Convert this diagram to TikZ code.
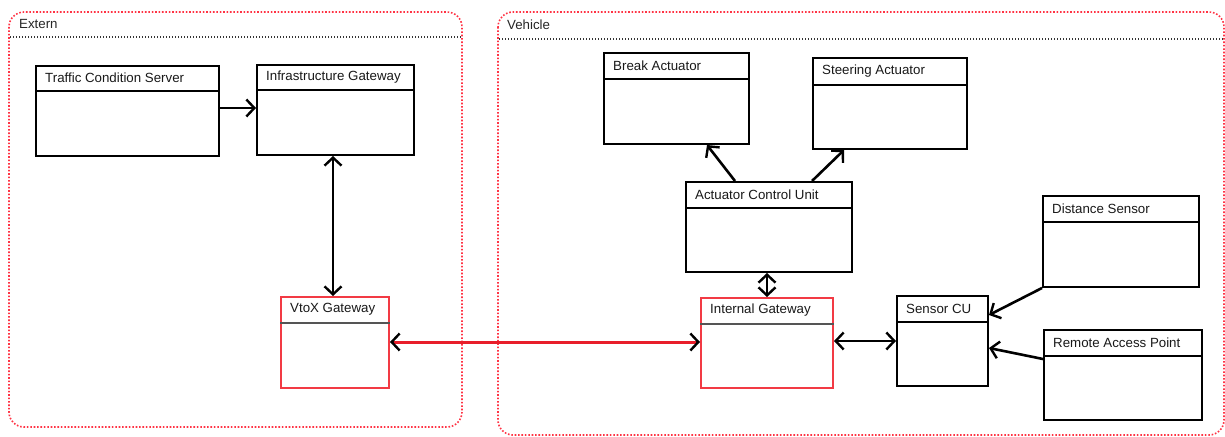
\documentclass[tikz,border=0pt]{standalone}
\usepackage{fontspec}
\setmainfont{Liberation Sans}
\usetikzlibrary{arrows.meta,calc}
\definecolor{zonered}{HTML}{FF3344}
\definecolor{gwred}{HTML}{F23A44}
\definecolor{linkred}{HTML}{E81E2A}
\definecolor{divgray}{HTML}{555555}
\tikzset{
  zone/.style={draw=zonered, line width=1.6pt, dash pattern=on 1.6pt off 1.8pt, rounded corners=15pt},
  zonehdr/.style={draw=black!80, line width=1.4pt, dash pattern=on 1.4pt off 1.6pt},
  zonelabel/.style={anchor=west, inner sep=0pt, font=\fontsize{13.3}{15}\selectfont, text=black!85},
  umlbox/.style={rectangle, line width=2pt, inner sep=0pt, anchor=north west, fill=white},
  title/.style={anchor=west, inner sep=0pt, font=\fontsize{13.3}{15}\selectfont, text=black!90},
  tip/.style={Straight Barb[length=8pt,width=17pt,line width=2.4pt]},
  link/.style={line width=2.6pt, black, arrows={-Straight Barb[length=8pt,width=17pt,line width=2.4pt]}},
  dlink/.style={line width=2.6pt, black, arrows={Straight Barb[length=8pt,width=17pt,line width=2.4pt]-Straight Barb[length=8pt,width=17pt,line width=2.4pt]}},
  redlink/.style={line width=3pt, linkred, arrows={Straight Barb[length=8pt,width=17pt,line width=2.4pt,color=black]-Straight Barb[length=8pt,width=17pt,line width=2.4pt,color=black]}}
}
% \umlcomp{name}{x}{y}{width}{height}{header height}{title}{border colour}{divider colour}
\newcommand\umlcomp[9]{%
  \node[umlbox, draw=#8, minimum width=#4pt, minimum height=#5pt] (#1) at (#2,#3) {};
  \draw[line width=2pt, #9] ($(#1.north west)+(0,#6)$) -- ($(#1.north east)+(0,#6)$);
  \node[title] (#1-t) at ($(#1.north west)+(10,#6/2)$) {#7};
}
\begin{document}
\begin{tikzpicture}[x=1pt,y=-1pt]
\useasboundingbox (0,0) rectangle (1225,436);

% zones
\draw[zone] (9,12) rectangle (462,427);
\draw[zonehdr] (10,37) -- (461,37);
\node[zonelabel] (extern) at (19,24) {Extern};

\draw[zone] (498,12) rectangle (1224,435);
\draw[zonehdr] (499,39) -- (1223,39);
\node[zonelabel] (vehicle) at (507,25) {Vehicle};

% external components
\umlcomp{tcs}{35}{65}{183}{90}{26}{Traffic Condition Server}{black}{black}
\umlcomp{ig}{256}{64}{157}{90}{26}{Infrastructure Gateway}{black}{black}
\umlcomp{vtox}{280}{296}{108}{91}{27}{VtoX Gateway}{gwred}{divgray}

% vehicle components
\umlcomp{ba}{603}{52}{145}{91}{27}{Break Actuator}{black}{black}
\umlcomp{sa}{812}{57}{154}{91}{28}{Steering Actuator}{black}{black}
\umlcomp{acu}{685}{181}{166}{90}{27}{Actuator Control Unit}{black}{black}
\umlcomp{intgw}{700}{297}{132}{90}{27}{Internal Gateway}{gwred}{divgray}
\umlcomp{scu}{896}{295}{91}{90}{27}{Sensor CU}{black}{black}
\umlcomp{ds}{1042}{195}{156}{91}{27}{Distance Sensor}{black}{black}
\umlcomp{rap}{1043}{329}{158}{90}{27}{Remote Access Point}{black}{black}

% connectors
\draw[link] (tcs.east |- 0,108) -- (ig.west |- 0,108);
\draw[dlink] (ig.south -| 333,0) -- (vtox.north -| 333,0);
\draw[redlink] (vtox.east |- 0,342) -- (intgw.west |- 0,342);
\draw[link] (acu.north -| 735,0) -- (ba.south -| 707,0);
\draw[link] (acu.north -| 812,0) -- (sa.south -| 844,0);
\draw[dlink] (acu.south -| 767,0) -- (intgw.north -| 767,0);
\draw[dlink] (intgw.east |- 0,341) -- (scu.west |- 0,341);
\draw[link] (ds.south west) -- (scu.east |- 0,315);
\draw[link] (rap.west |- 0,359) -- (scu.east |- 0,348);
\end{tikzpicture}
\end{document}
